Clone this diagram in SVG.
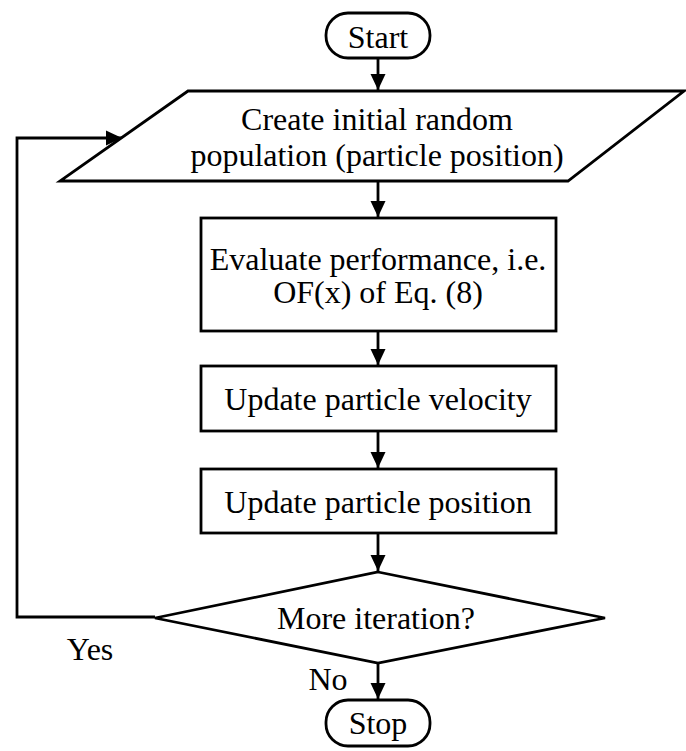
<svg xmlns="http://www.w3.org/2000/svg" width="686" height="751" viewBox="0 0 686 751">
<defs>
<marker id="ah" markerWidth="16" markerHeight="16" viewBox="0 0 16 16" refX="16" refY="8" orient="auto" markerUnits="userSpaceOnUse">
<path d="M0,0.5 L16,8 L0,15.5 Z" fill="#000"/>
</marker>
<style>
.s{fill:#fff;stroke:#000;stroke-width:2.8;}
.c{fill:none;stroke:#000;stroke-width:2.8;}
text{font-family:"Liberation Serif","Times New Roman",serif;font-size:32px;fill:#000;text-anchor:middle;}
</style>
</defs>
<rect width="686" height="751" fill="#fff"/>
<g id="connectors">
<line class="c" x1="378" y1="58" x2="378" y2="90" marker-end="url(#ah)"/>
<line class="c" x1="378" y1="181" x2="378" y2="217" marker-end="url(#ah)"/>
<line class="c" x1="378" y1="331" x2="378" y2="365" marker-end="url(#ah)"/>
<line class="c" x1="378" y1="431" x2="378" y2="468" marker-end="url(#ah)"/>
<line class="c" x1="378" y1="533" x2="378" y2="571" marker-end="url(#ah)"/>
<line class="c" x1="378" y1="663" x2="378" y2="699" marker-end="url(#ah)"/>
<polyline class="c" points="155,617 17,617 17,138 122,138" marker-end="url(#ah)"/>
<text x="90" y="660">Yes</text>
<text x="328" y="690">No</text>
</g>
<g id="start">
<rect class="s" x="326" y="13" width="104" height="45" rx="22"/>
<text x="378" y="48">Start</text>
</g>
<g id="create">
<polygon class="s" points="188,91 684,91 568,181 60,181"/>
<text x="377" y="130">Create initial random</text>
<text x="377" y="166">population (particle position)</text>
</g>
<g id="evaluate">
<rect class="s" x="201" y="218" width="355" height="113"/>
<text x="378" y="270">Evaluate performance, i.e.</text>
<text x="378" y="303">OF(x) of Eq. (8)</text>
</g>
<g id="velocity">
<rect class="s" x="201" y="366" width="355" height="65"/>
<text x="378" y="410">Update particle velocity</text>
</g>
<g id="position">
<rect class="s" x="201" y="469" width="355" height="64"/>
<text x="378" y="513">Update particle position</text>
</g>
<g id="decision">
<polygon class="s" points="378,572 605,618 378,663 155,618"/>
<text x="376" y="629">More iteration?</text>
</g>
<g id="stop">
<rect class="s" x="326" y="700" width="104" height="46" rx="22"/>
<text x="378" y="734">Stop</text>
</g>
</svg>
